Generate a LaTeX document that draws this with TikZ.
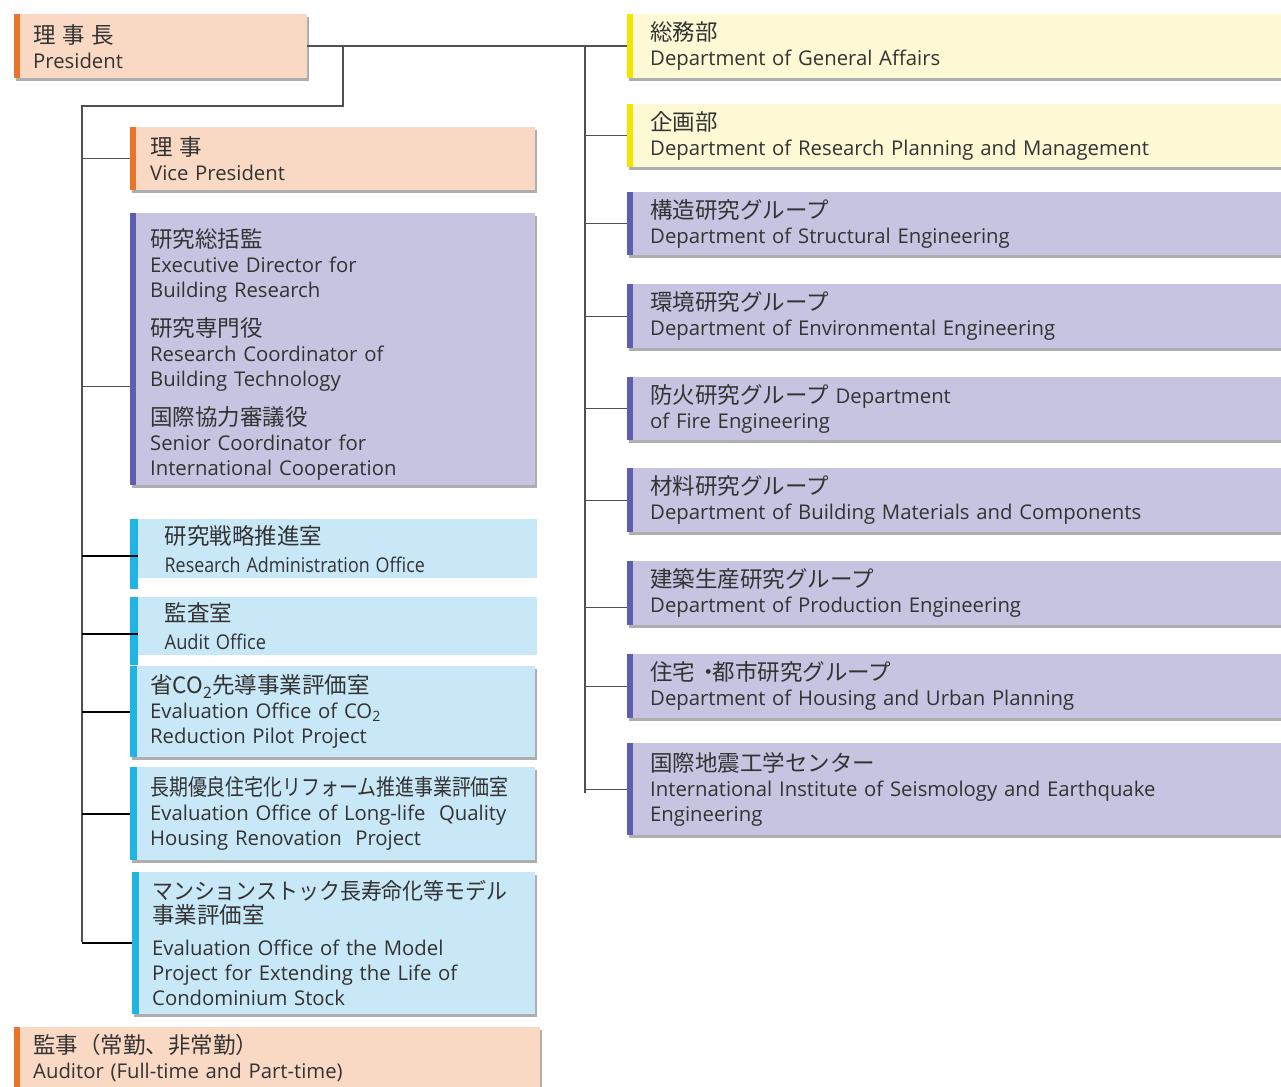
\documentclass[tikz,border=0pt]{standalone}
\usepackage{fontspec}
\setmainfont{Open Sans}[WordSpace=0.85]
\newfontfamily\jpfont{Noto Sans CJK JP}
\usetikzlibrary{shadows}
\definecolor{peach}{HTML}{FAD9C4}
\definecolor{orangebar}{HTML}{E8742A}
\definecolor{yelfill}{HTML}{FEF9D5}
\definecolor{yelbar}{HTML}{F2E600}
\definecolor{purfill}{HTML}{C6C4E1}
\definecolor{purbar}{HTML}{5F5DB0}
\definecolor{blufill}{HTML}{C8E7F7}
\definecolor{blubar}{HTML}{1FB4E4}
\definecolor{txt}{HTML}{333333}
\definecolor{ln}{HTML}{505050}
\newcommand{\jp}[1]{{\jpfont\fontsize{22.5}{25}\selectfont #1}}
\begin{document}
\begin{tikzpicture}[x=1pt,y=-1pt,
  base/.style={anchor=north west, inner ysep=0pt, align=left, text=txt,
    font=\fontsize{20.3}{25}\selectfont,
    drop shadow={shadow xshift=2pt,shadow yshift=-2.5pt,fill=black!45,opacity=0.7}},
  barred/.style 2 args={path picture={\fill[#1] (path picture bounding box.north west) rectangle ([xshift=#2]path picture bounding box.south west);}},
  orgbox/.style={base, fill=peach, barred={orangebar}{6pt}},
  yelbox/.style={base, fill=yelfill, barred={yelbar}{6pt}},
  purbox/.style={base, fill=purfill, barred={purbar}{6pt}},
  blubox/.style={base, fill=blufill, barred={blubar}{7pt}},
  rbox/.style={minimum width=670pt, text width=624pt, inner xsep=23pt},
  lbox/.style={minimum width=405pt, text width=365pt, inner xsep=20pt},
  conn/.style={draw=ln, line width=1.4pt},
  bconn/.style={draw=black, line width=2.4pt},
]
\clip (0,0) rectangle (1281,1086);
\fill[white] (0,0) rectangle (1281,1086);

% President
\node[orgbox, minimum width=293pt, text width=255pt, inner xsep=19pt, minimum height=64pt] (pres) at (14,14)
  {\jp{理 事 長}\\President};

% right column
\node[yelbox, rbox, minimum height=64pt] (ga) at (627,14) {\jp{総務部}\\Department of General Affairs};
\node[yelbox, rbox, minimum height=63pt] (rp) at (627,104) {\jp{企画部}\\Department of Research Planning and Management};
\node[purbox, rbox, minimum height=63pt] (st) at (627,192) {\jp{構造研究グループ}\\Department of Structural Engineering};
\node[purbox, rbox, minimum height=64pt] (en) at (627,284) {\jp{環境研究グループ}\\Department of Environmental Engineering};
\node[purbox, rbox, minimum height=63pt] (fi) at (627,377) {\jp{防火研究グループ} Department\\of Fire Engineering};
\node[purbox, rbox, minimum height=64pt] (ma) at (627,468) {\jp{材料研究グループ}\\Department of Building Materials and Components};
\node[purbox, rbox, minimum height=64pt] (pr) at (627,561) {\jp{建築生産研究グループ}\\Department of Production Engineering};
\node[purbox, rbox, minimum height=64pt] (ho) at (627,654) {\jp{住宅\hspace{2pt}・\hspace{-7pt}都市研究グループ}\\Department of Housing and Urban Planning};
\node[purbox, rbox, minimum height=92pt] (ii) at (627,743) {\jp{国際地震工学センター}\\International Institute of Seismology and Earthquake\\Engineering};

% left column
\node[orgbox, lbox, minimum height=63pt] (vp) at (130,127) {\jp{理 事}\\Vice President};
\node[purbox, lbox, minimum height=272pt] (ex) at (130,213)
  {\mbox{}\\[4pt]\jp{研究総括監}\\Executive Director for\\Building Research\\[14pt]
   \jp{研究専門役}\\Research Coordinator of\\Building Technology\\[14pt]
   \jp{国際協力審議役}\\Senior Coordinator for\\International Cooperation};

% research admin and audit (bars longer than boxes, no shadow)
\fill[blubar] (130,519) rectangle (138,589);
\node[anchor=north west, fill=blufill, minimum width=399pt, minimum height=59pt, text width=346pt, inner xsep=26pt, inner ysep=0pt,
  align=left, text=txt, font=\fontsize{20.3}{25}\selectfont] (ra) at (138,519)
  {\jp{研究戦略推進室}\\[3pt]\scalebox{0.88}[1]{Research Administration Office}};
\fill[blubar] (130,597) rectangle (138,665);
\node[anchor=north west, fill=blufill, minimum width=399pt, minimum height=58pt, text width=346pt, inner xsep=26pt, inner ysep=0pt,
  align=left, text=txt, font=\fontsize{20.3}{25}\selectfont] (au) at (138,597)
  {\jp{監査室}\\[3pt]\scalebox{0.9}[1]{Audit Office}};

\node[blubox, lbox, minimum height=91pt] (co) at (130,666)
  {\jp{省CO\textsubscript{2}先導事業評価室}\\Evaluation Office of CO\textsubscript{2}\\Reduction Pilot Project};
\node[blubox, lbox, minimum height=93pt] (ll) at (130,767)
  {\scalebox{0.84}[1]{\jp{長期優良住宅化リフォーム推進事業評価室}}\\Evaluation Office of Long-life\ \ Quality\\Housing Renovation\ \ Project};
\node[blubox, minimum width=403pt, text width=363pt, inner xsep=20pt, minimum height=142pt] (ms) at (132,872)
  {\scalebox{0.93}[1]{\jp{マンションストック長寿命化等モデル}}\\[-1pt]\jp{事業評価室}\\[7pt]
   Evaluation Office of the Model\\Project for Extending the Life of\\Condominium Stock};

\node[orgbox, minimum width=526pt, text width=488pt, inner xsep=19pt, minimum height=62pt] (ad) at (14,1027)
  {\jp{監事（常勤、非常勤）}\\Auditor (Full-time and Part-time)};

% connectors
\coordinate (pj) at (343,46);
\coordinate (lt) at (82,106);
\coordinate (lb) at (82,942);
\coordinate (rt) at (585,47);
\coordinate (rb) at (585,793);
\draw[conn] (pres.east) -- (ga.west);
\draw[conn] (pj) |- (lt) -- (lb);
\draw[conn] (rt) -- (rb);
\foreach \n in {rp,st,en,fi,ma,ho,ii} {\draw[conn] (rt |- \n.west) -- (\n.west);}
\draw[conn] ([yshift=-14pt]rt |- pr.west) -- ([yshift=-14pt]pr.west);
\draw[conn] (lt |- vp.west) -- (vp.west);
\draw[conn] ([yshift=-37pt]lt |- ex.west) -- ([yshift=-37pt]ex.west);
\draw[bconn] ([yshift=-7pt]lt |- ra.west) -- ([yshift=-7pt]ra.west);
\draw[bconn] ([yshift=-8pt]lt |- au.west) -- ([yshift=-8pt]au.west);
\draw[bconn] (lt |- co.west) -- (co.west);
\draw[bconn] (lt |- ll.west) -- (ll.west);
\draw[bconn] (lt |- ms.west) -- (ms.west);
\end{tikzpicture}
\end{document}
